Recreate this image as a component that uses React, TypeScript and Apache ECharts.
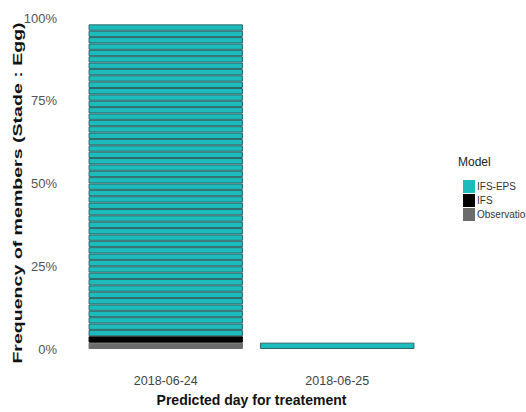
import React, { useEffect, useRef } from "react";
import * as echarts from "echarts";

const categories = ["2018-06-24", "2018-06-25"];
const totalMembers = 52;
const observationCounts = [1, 0];
const ifsCounts = [1, 0];
const epsCounts = [49, 1];
const yTickValues = [0, 25, 50, 75, 100];
const legendNames = ["IFS-EPS", "IFS", "Observation"];

const COLORS: Record<string, string> = {
  "IFS-EPS": "#1cbcbc",
  IFS: "#000000",
  Observation: "#6b6b6b",
};

function memberSeries(name: string, counts: number[]) {
  const maxC = Math.max(...counts);
  const out: any[] = [];
  for (let k = 0; k < maxC; k++) {
    out.push({
      name,
      type: "bar",
      stack: "members",
      barCategoryGap: "10%",
      itemStyle: {
        color: COLORS[name],
        borderColor: name === "IFS-EPS" ? "#2d6668" : COLORS[name],
        borderWidth: 1,
      },
      emphasis: { disabled: true },
      data: counts.map((c) => (k < c ? 100 / totalMembers : "-")),
    });
  }
  return out;
}

export default function App() {
  const ref = useRef<HTMLDivElement>(null);
  useEffect(() => {
    if (!ref.current) return;
    const chart = echarts.init(ref.current, null, { renderer: "svg" });
    const font = "'Liberation Sans', Arial, sans-serif";
    chart.setOption({
      animation: false,
      backgroundColor: "#ffffff",
      grid: { left: 80, right: 103, top: 18, bottom: 60 },
      xAxis: {
        type: "category",
        data: categories,
        axisLine: { show: false },
        axisTick: { show: false },
        axisLabel: { margin: 25, fontSize: 12.5, color: "#444", fontFamily: font },
        name: "Predicted day for treatement",
        nameLocation: "middle",
        nameGap: 44,
        nameTextStyle: {
          fontSize: 14,
          fontWeight: "bold",
          color: "#111",
          fontFamily: font,
        },
      },
      yAxis: {
        type: "value",
        min: yTickValues[0],
        max: yTickValues[yTickValues.length - 1],
        interval: yTickValues[1] - yTickValues[0],
        splitLine: { show: false },
        axisLine: { show: false },
        axisTick: { show: false },
        axisLabel: {
          formatter: "{value}%",
          fontSize: 13,
          color: "#555",
          margin: 23,
          fontFamily: font,
        },
      },
      legend: {
        data: legendNames,
        orient: "vertical",
        left: 458,
        top: 175,
        itemWidth: 12,
        itemHeight: 13,
        itemGap: 1,
        icon: "rect",
        selectedMode: false,
        itemStyle: { borderWidth: 0 },
        textStyle: { fontSize: 10, color: "#333", fontFamily: font, padding: [0, 0, 0, -3] },
      },
      graphic: [
        {
          type: "text",
          x: 18,
          y: 193,
          rotation: Math.PI / 2,
          scaleX: 1.45,
          style: {
            text: "Frequency of members (Stade : Egg)",
            font: "bold 13.5px 'Liberation Sans'",
            fill: "#111",
            textAlign: "center",
            textVerticalAlign: "middle",
          },
        },
        {
          type: "text",
          left: 458,
          top: 156,
          style: {
            text: "Model",
            font: "12px 'Liberation Sans'",
            fill: "#222",
          },
        },
      ],
      series: [
        ...memberSeries("Observation", observationCounts),
        ...memberSeries("IFS", ifsCounts),
        ...memberSeries("IFS-EPS", epsCounts),
      ],
    });
    return () => chart.dispose();
  }, []);
  return (
    <div
      ref={ref}
      style={{ position: "absolute", left: 0, top: 0, width: 526, height: 412 }}
    />
  );
}
